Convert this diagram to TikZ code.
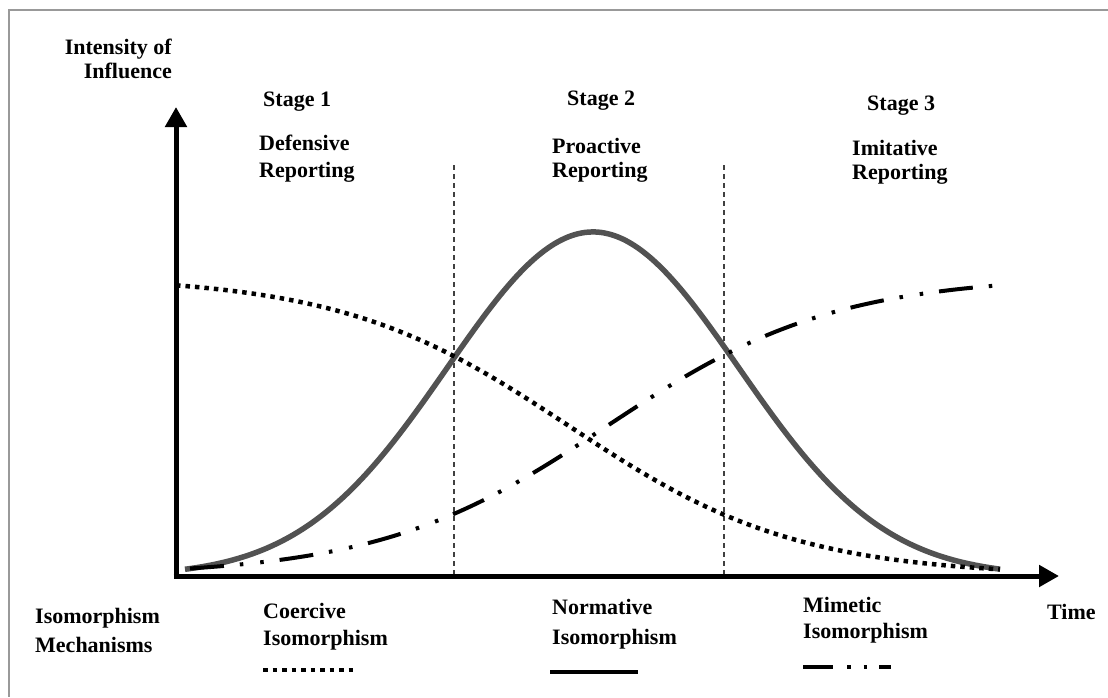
\documentclass[tikz,border=0pt]{standalone}
\usepackage{fontspec}
\setmainfont{Liberation Serif}
\usetikzlibrary{arrows.meta}
\begin{document}
\begin{tikzpicture}[x=1pt,y=-1pt,
  lbl/.style={font=\bfseries\fontsize{22}{26}\selectfont, inner sep=0pt, align=left, anchor=base west},
  axis/.style={line width=5pt, -{Triangle[length=20pt,width=21pt]}},
  divider/.style={line width=1.3pt, draw=black!75, dash pattern=on 5pt off 4pt},
  bell/.style={line width=5.5pt, draw=black!68},
  coercive/.style={line width=4.5pt, dash pattern=on 4.5pt off 5pt},
  normative/.style={line width=4pt},
  mimetic/.style={line width=4pt, dash pattern=on 34pt off 16pt on 3.5pt off 17pt on 3.5pt off 16pt},
  mimeticlegend/.style={line width=4pt, dash pattern=on 30pt off 14pt on 3.5pt off 13pt on 3.5pt off 12pt on 20pt}
]
\useasboundingbox (0,0) rectangle (1108,697);
% frame
\draw[draw=black!40, line width=1.5pt] (1108,10) -- (9,10) -- (9,697);

% coordinates
\coordinate (O) at (176,576);
\coordinate (ytip) at (176,107);
\coordinate (xtip) at (1059,576);
\coordinate (d1top) at (454,165);
\coordinate (d1bot) at (454,576);
\coordinate (d2top) at (724,165);
\coordinate (d2bot) at (724,576);

% dividers
\draw[divider] (d1top) -- (d1bot);
\draw[divider] (d2top) -- (d2bot);

% curves
\draw[bell] plot[domain=185:1000, samples=160, smooth] (\x, {576-344*exp(-0.5*((\x-593)/145.5)*((\x-593)/145.5))});
\draw[coercive] plot[domain=176:1000, samples=120, smooth] (\x, {576-300/(1+exp((\x-569)/114))});
\draw[mimetic] plot[domain=190:1005, samples=120, smooth] (\x, {576-300/(1+exp((607-\x)/114))});

% axes
\draw[axis] ([yshift=-2.5pt]O) -- (ytip);
\draw[axis] ([xshift=-2.5pt]O) -- (xtip);

% labels (base anchor = baseline of the last line)
\node[lbl, align=right, anchor=base east, font=\bfseries\fontsize{22}{24}\selectfont] (yl) at (172,78) {Intensity of\\Influence};
\node[lbl] (s1) at (263,106) {Stage 1};
\node[lbl, font=\bfseries\fontsize{22}{27}\selectfont] (s1t) at (259,177) {Defensive\\Reporting};
\node[lbl] (s2) at (567,105) {Stage 2};
\node[lbl, font=\bfseries\fontsize{22}{24}\selectfont] (s2t) at (552,177) {Proactive\\Reporting};
\node[lbl] (s3) at (867,110) {Stage 3};
\node[lbl, font=\bfseries\fontsize{22}{24}\selectfont] (s3t) at (852,179) {Imitative\\Reporting};

\node[lbl, font=\bfseries\fontsize{22}{29}\selectfont] (mech) at (35,652) {Isomorphism\\Mechanisms};
\node[lbl, font=\bfseries\fontsize{22}{27}\selectfont] (coe) at (263,645) {Coercive\\Isomorphism};
\node[lbl, font=\bfseries\fontsize{22}{30}\selectfont] (nor) at (552,644) {Normative\\Isomorphism};
\node[lbl, font=\bfseries\fontsize{22}{26}\selectfont] (mim) at (803,638) {Mimetic\\Isomorphism};
\node[lbl] (time) at (1047,619) {Time};

% legend
\coordinate (lc1) at (263,670); \coordinate (lc2) at (353,670);
\coordinate (ln1) at (550,672); \coordinate (ln2) at (638,672);
\coordinate (lm1) at (803,667); \coordinate (lm2) at (891,667);
\draw[coercive] (lc1) -- (lc2);
\draw[normative] (ln1) -- (ln2);
\draw[mimeticlegend] (lm1) -- (lm2);
\end{tikzpicture}
\end{document}
